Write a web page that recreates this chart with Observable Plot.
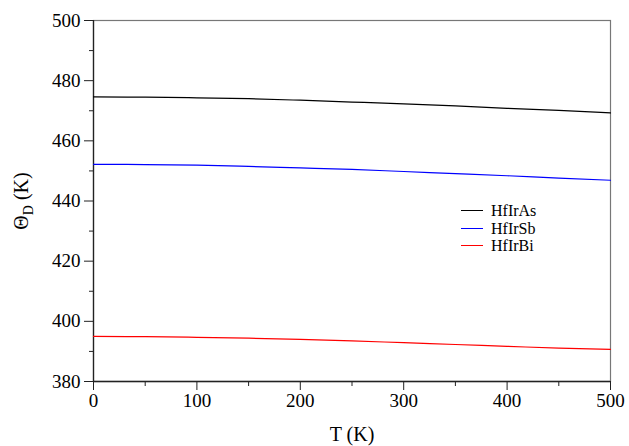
<!DOCTYPE html>
<html>
<head>
<meta charset="utf-8">
<script src="https://cdn.jsdelivr.net/npm/d3@7"></script>
<script src="https://cdn.jsdelivr.net/npm/@observablehq/plot@0.6"></script>
<style>
  body { margin: 0; background: #fff; }
  #wrap { position: relative; width: 629px; height: 446px; font-family: "Liberation Serif", "Times New Roman", serif; }
  #wrap svg, #wrap svg text { font-family: "Liberation Serif", "Times New Roman", serif !important; }
  #legend { position: absolute; left: 461px; top: 202px; font-size: 16px; line-height: 17.5px; color: #000; }
  #legend .row { display: flex; align-items: center; white-space: nowrap; }
  #legend .sw { width: 22px; height: 0; border-top: 1.3px solid; margin-right: 8px; }
</style>
</head>
<body>
<div id="wrap"></div>
<script>
const temps = [0, 50, 100, 150, 200, 250, 300, 350, 400, 450, 500];
const hfIrAs = [474.6, 474.5, 474.3, 474.0, 473.5, 472.9, 472.3, 471.6, 470.8, 470.1, 469.3];
const hfIrSb = [452.2, 452.1, 451.9, 451.5, 451.0, 450.5, 449.8, 449.1, 448.4, 447.6, 446.9];
const hfIrBi = [395.0, 394.9, 394.7, 394.4, 394.0, 393.5, 392.9, 392.3, 391.7, 391.1, 390.7];
const seriesNames = ["HfIrAs", "HfIrSb", "HfIrBi"];
const seriesColors = ["#000000", "#0000ff", "#ff0000"];
const xTicks = [0, 100, 200, 300, 400, 500];
const xMinor = [50, 150, 250, 350, 450];
const yTicks = [380, 400, 420, 440, 460, 480, 500];
const yMinor = [390, 410, 430, 450, 470, 490];

const allSeries = [hfIrAs, hfIrSb, hfIrBi];
const rows = [];
allSeries.forEach((vals, i) => vals.forEach((v, j) => rows.push({T: temps[j], theta: v, name: seriesNames[i]})));

const serif = "'Liberation Serif', 'Times New Roman', serif";
const fontSize = 19;
const plot = Plot.plot({
  width: 629,
  height: 446,
  marginLeft: 93,
  marginRight: 19,
  marginTop: 20,
  marginBottom: 65,
  style: { fontFamily: serif, fontSize: fontSize + "px", background: "#fff", color: "#000" },
  x: { domain: [0, 500] },
  y: { domain: [380, 500] },
  color: { domain: seriesNames, range: seriesColors },
  marks: [
    Plot.frame({ stroke: "#777", strokeWidth: 1.2 }),
    Plot.axisX({ ticks: xMinor, tickSize: 5, text: null, label: null, stroke: "#222" }),
    Plot.axisX({ ticks: xTicks, tickSize: 9, tickPadding: 3, label: null, fontSize: fontSize, stroke: "#222", tickFormat: d => d }),
    Plot.axisY({ ticks: yMinor, tickSize: 4, text: null, label: null, stroke: "#222" }),
    Plot.axisY({ ticks: yTicks, tickSize: 9, tickPadding: 4, label: null, fontSize: fontSize, stroke: "#222", tickFormat: d => d }),
    Plot.ruleY([380], { stroke: "#222", strokeWidth: 1.3 }),
    Plot.ruleX([0], { stroke: "#222", strokeWidth: 1.3 }),
    Plot.line(rows, { x: "T", y: "theta", z: "name", stroke: "name", strokeWidth: 1.2, curve: "monotone-x" })
  ]
});

const svg = d3.select(plot);
svg.attr("font-family", serif);
svg.selectAll("g").attr("font-family", serif);
svg.append("text")
  .attr("x", 352).attr("y", 441)
  .attr("text-anchor", "middle")
  .attr("font-size", 20)
  .attr("font-family", serif)
  .attr("fill", "#000")
  .text("T (K)");
const yl = svg.append("text")
  .attr("transform", "translate(28,201) rotate(-90)")
  .attr("text-anchor", "middle")
  .attr("font-size", 20)
  .attr("font-family", serif)
  .attr("fill", "#000");
yl.append("tspan").text("Θ");
yl.append("tspan").attr("font-size", 14).attr("dy", 5).text("D");
yl.append("tspan").attr("dy", -5).text(" (K)");

const wrap = document.getElementById("wrap");
wrap.appendChild(plot);
const legend = document.createElement("div");
legend.id = "legend";
seriesNames.forEach((n, i) => {
  const r = document.createElement("div");
  r.className = "row";
  const sw = document.createElement("span");
  sw.className = "sw";
  sw.style.borderTopColor = seriesColors[i];
  const t = document.createElement("span");
  t.textContent = n;
  r.appendChild(sw); r.appendChild(t);
  legend.appendChild(r);
});
wrap.appendChild(legend);
</script>
</body>
</html>
